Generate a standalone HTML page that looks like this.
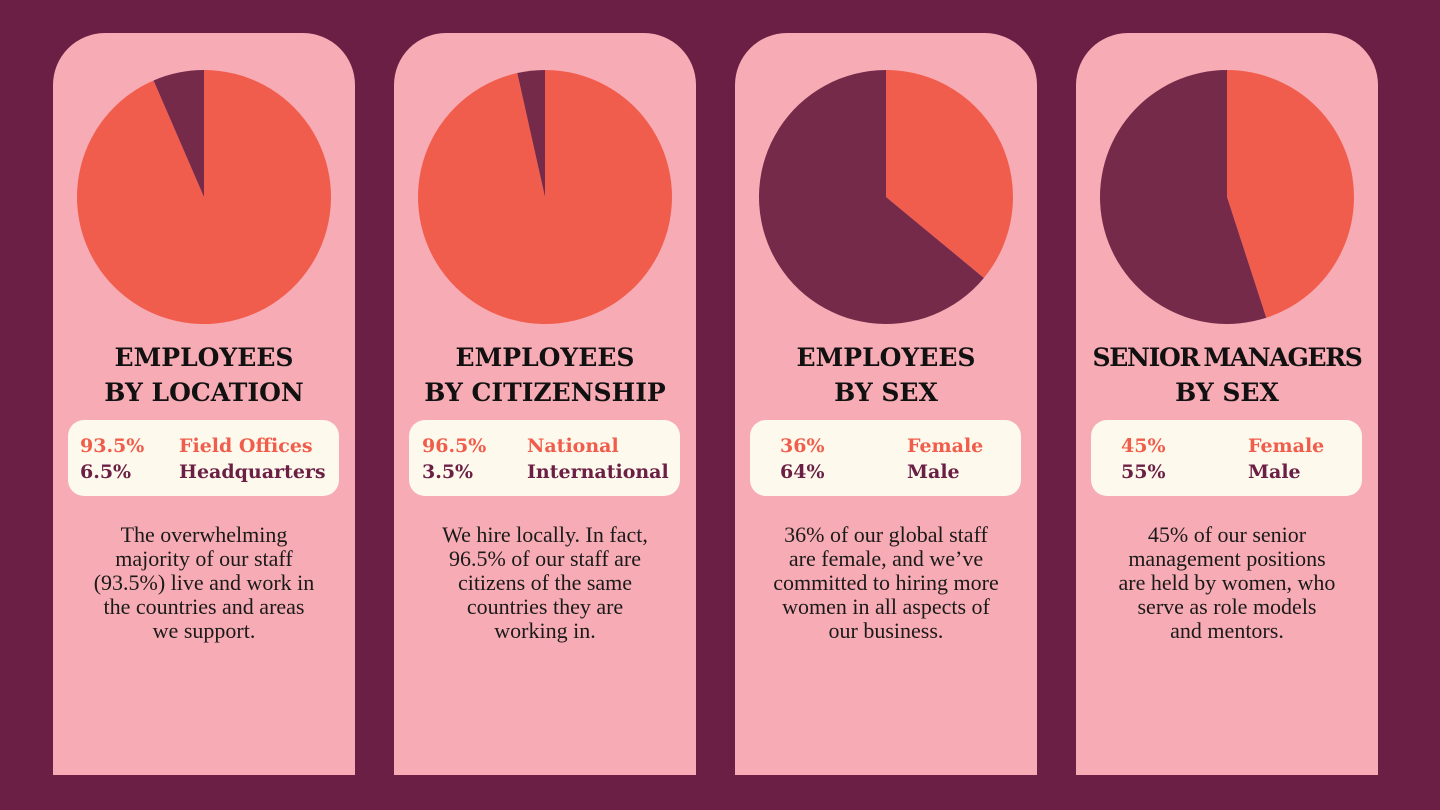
<!DOCTYPE html>
<html><head><meta charset="utf-8">
<style>
body{margin:0;width:1440px;height:810px;background:#6b1f45;position:relative;overflow:hidden;font-family:"Liberation Serif",serif;}
.card{position:absolute;top:33px;width:302px;height:742px;background:#f7abb4;border-radius:52px 52px 0 0;}
.title{position:absolute;left:0;width:302px;top:307px;text-align:center;font-family:"DejaVu Serif",serif;font-weight:bold;font-size:25px;line-height:35px;color:#111;letter-spacing:0px;white-space:nowrap;}
.legend{position:absolute;left:15px;top:387px;width:271px;height:76px;background:#fdf9ec;border-radius:16px;}
.lg{position:absolute;font-family:"DejaVu Serif",serif;font-weight:bold;font-size:19px;line-height:26px;}
.c1{color:#f15d4c}.c2{color:#6b1f45}
.body{position:absolute;left:0;width:302px;top:490px;text-align:center;font-size:22px;line-height:24px;color:#1a1a1a;white-space:nowrap;}
svg{position:absolute;left:0;top:0}
</style></head><body>
<div id="root"></div>
<script>
const titles=[["EMPLOYEES","BY LOCATION"],["EMPLOYEES","BY CITIZENSHIP"],["EMPLOYEES","BY SEX"],["SENIOR MANAGERS","BY SEX"]];
const primaryValues=[93.5,96.5,36,45];
const secondaryValues=[6.5,3.5,64,55];
const primaryLabels=["Field Offices","National","Female","Female"];
const secondaryLabels=["Headquarters","International","Male","Male"];
const percentText=[["93.5%","6.5%"],["96.5%","3.5%"],["36%","64%"],["45%","55%"]];
const bodies=[["The overwhelming","majority of our staff","(93.5%) live and work in","the countries and areas","we support."],
["We hire locally. In fact,","96.5% of our staff are","citizens of the same","countries they are","working in."],
["36% of our global staff","are female, and we’ve","committed to hiring more","women in all aspects of","our business."],
["45% of our senior","management positions","are held by women, who","serve as role models","and mentors."]];
const lefts=[53,394,735,1076];
const pctX=[27,28,45,45],labX=[126,133,172,172];
const NS="http://www.w3.org/2000/svg";
const root=document.getElementById('root');
function pt(cx,cy,r,a){return [cx+r*Math.sin(a),cy-r*Math.cos(a)];}
lefts.forEach((L,i)=>{
 const c=document.createElement('div');c.className='card';c.style.left=L+'px';
 
 
 root.appendChild(c);
 const svg=document.createElementNS(NS,'svg');svg.setAttribute('width','302');svg.setAttribute('height','300');
 
 
 c.appendChild(svg);
 const cx=151,cy=164,r=127;
 const tot=primaryValues[i]+secondaryValues[i];
 const a1=primaryValues[i]/tot*2*Math.PI;
 const segs=[[0,a1,'#f15d4c','pie-slice-primary'],[a1,2*Math.PI,'#752a4a','pie-slice-secondary']];
 segs.forEach(s=>{
  const p0=pt(cx,cy,r,s[0]),p1=pt(cx,cy,r,s[1]);
  const large=(s[1]-s[0])>Math.PI?1:0;
  const p=document.createElementNS(NS,'path');
  p.setAttribute('d',`M${cx},${cy}L${p0[0]},${p0[1]}A${r},${r} 0 ${large} 1 ${p1[0]},${p1[1]}Z`);
  p.setAttribute('fill',s[2]);
  
  
  svg.appendChild(p);
 });
 const t=document.createElement('div');t.className='title';
 if(i===3){t.innerHTML='<span style="letter-spacing:-1.3px;word-spacing:-3px">'+titles[i][0]+'</span><br>'+titles[i][1];}
 else t.innerHTML=titles[i][0]+'<br>'+titles[i][1];
 
 
 c.appendChild(t);
 const lg=document.createElement('div');lg.className='legend';
 
 
 c.appendChild(lg);
 [[percentText[i][0],pctX[i]-15,15,'c1','legend-primary-value'],[primaryLabels[i],labX[i]-15,15,'c1','legend-primary-label'],
  [percentText[i][1],pctX[i]-15,41,'c2','legend-secondary-value'],[secondaryLabels[i],labX[i]-15,41,'c2','legend-secondary-label']].forEach(e=>{
  const d=document.createElement('div');d.className='lg '+e[3];d.textContent=e[0];d.style.left=e[1]+'px';d.style.top=(e[2]-2)+'px';
  
  
  lg.appendChild(d);
 });
 const b=document.createElement('div');b.className='body';b.innerHTML=bodies[i].join('<br>');
 
 
 c.appendChild(b);
});
</script>
</body></html>
